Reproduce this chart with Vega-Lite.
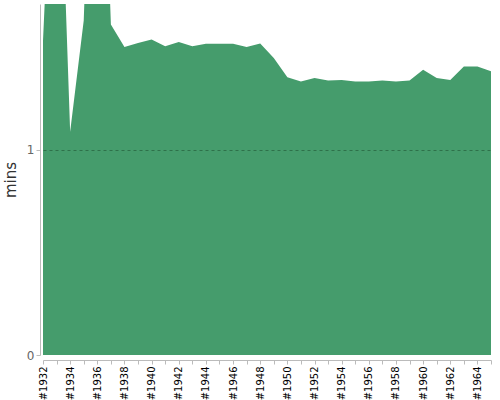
{
  "$schema": "https://vega.github.io/schema/vega-lite/v6.json",
  "width": 448,
  "height": 351,
  "autosize": {"type": "none"},
  "padding": {"left": 43, "top": 4, "right": 9, "bottom": 45},
  "config": {"font": "DejaVu Sans", "view": {"stroke": null}},
  "data": {"values": [
    {"year": 1932, "mins": 1.53},
    {"year": 1933, "mins": 3.0},
    {"year": 1934, "mins": 1.088},
    {"year": 1935, "mins": 1.63},
    {"year": 1936, "mins": 3.5},
    {"year": 1937, "mins": 1.61},
    {"year": 1938, "mins": 1.50},
    {"year": 1939, "mins": 1.52},
    {"year": 1940, "mins": 1.537},
    {"year": 1941, "mins": 1.504},
    {"year": 1942, "mins": 1.525},
    {"year": 1943, "mins": 1.504},
    {"year": 1944, "mins": 1.516},
    {"year": 1945, "mins": 1.516},
    {"year": 1946, "mins": 1.516},
    {"year": 1947, "mins": 1.50},
    {"year": 1948, "mins": 1.517},
    {"year": 1949, "mins": 1.447},
    {"year": 1950, "mins": 1.353},
    {"year": 1951, "mins": 1.333},
    {"year": 1952, "mins": 1.349},
    {"year": 1953, "mins": 1.337},
    {"year": 1954, "mins": 1.340},
    {"year": 1955, "mins": 1.332},
    {"year": 1956, "mins": 1.332},
    {"year": 1957, "mins": 1.337},
    {"year": 1958, "mins": 1.332},
    {"year": 1959, "mins": 1.337},
    {"year": 1960, "mins": 1.39},
    {"year": 1961, "mins": 1.349},
    {"year": 1962, "mins": 1.34},
    {"year": 1963, "mins": 1.406},
    {"year": 1964, "mins": 1.406},
    {"year": 1965, "mins": 1.382}
  ]},
  "mark": {"type": "area", "color": "#459c6c", "clip": true, "opacity": 1},
  "encoding": {
    "x": {
      "field": "year",
      "type": "ordinal",
      "scale": {"type": "point", "padding": 0},
      "axis": {
        "title": null,
        "offset": 5,
        "labelAngle": -90,
        "labelFontSize": 10,
        "labelColor": "#000",
        "labelExpr": "datum.value % 2 == 0 ? '#' + datum.value : ''",
        "domainColor": "#bbb",
        "tickColor": "#bbb",
        "tickSize": 4,
        "grid": false
      }
    },
    "y": {
      "field": "mins",
      "type": "quantitative",
      "scale": {"domain": [0, 1.71], "nice": false, "zero": true},
      "axis": {
        "title": "mins",
        "titleFontSize": 15,
        "titleFontWeight": "normal",
        "titleColor": "#333",
        "titlePadding": 8,
        "offset": 3,
        "values": [0, 1],
        "labelFontSize": 12,
        "labelColor": "#666",
        "domainColor": "#bbb",
        "tickColor": "#bbb",
        "tickSize": 4,
        "grid": true,
        "gridDash": [3, 3],
        "gridColor": "#1f5534",
        "gridOpacity": {"condition": {"test": "datum.value == 0", "value": 0}, "value": 0.6},
        "zindex": 1
      }
    }
  }
}
